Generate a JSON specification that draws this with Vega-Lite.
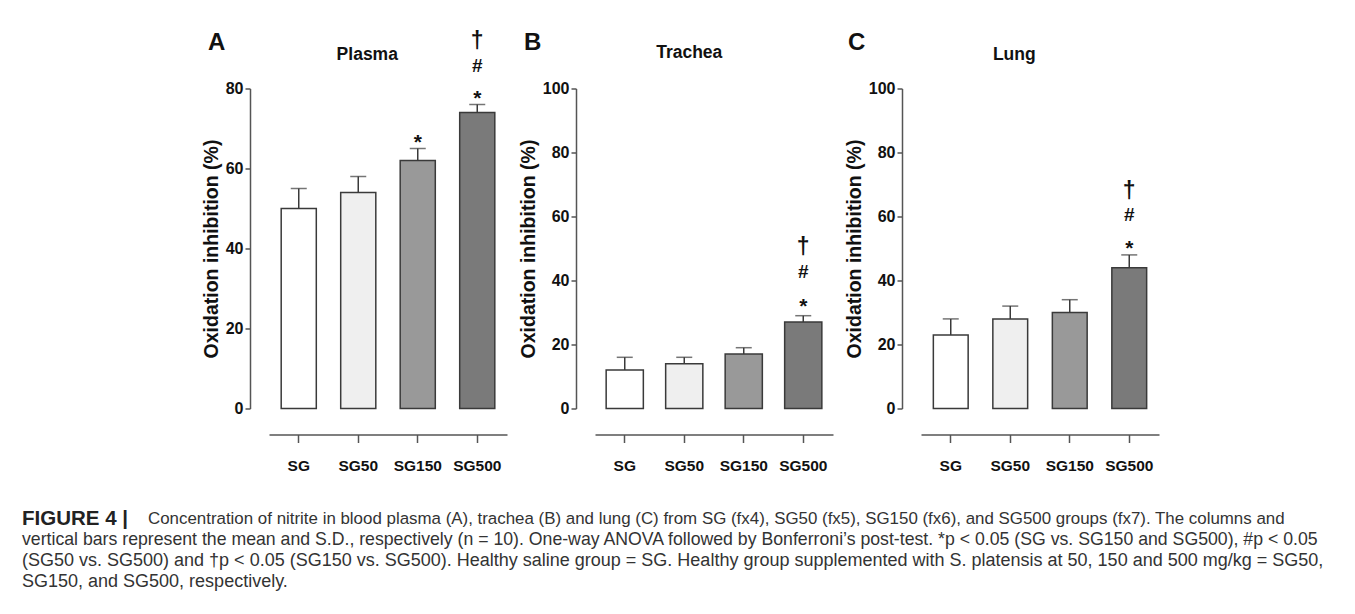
{
  "$schema": "https://vega.github.io/schema/vega-lite/v6.json",
  "background": "white",
  "padding": {"left": 22, "top": 29.5, "right": 8, "bottom": 4},
  "config": {
    "view": {"stroke": null},
    "axis": {"grid": false, "domainColor": "#555555", "domainWidth": 1.5, "tickColor": "#555555", "tickWidth": 1.5,
      "labelFont": "Liberation Sans, Arial, sans-serif", "labelFontWeight": "bold", "labelColor": "#111111",
      "titleFont": "Liberation Sans, Arial, sans-serif", "titleFontWeight": "bold", "titleColor": "#111111"},
    "text": {"color": "#111111"}
  },
  "bounds": "flush",
  "columns": 3,
  "spacing": {"row": 100, "column": 88},
  "concat": [
    {
      "width": 238, "height": 320,
      "data": {"values": [
        {"group": "SG", "mean": 50, "upper": 55, "star": "", "hash": "", "dagger": ""},
        {"group": "SG50", "mean": 54, "upper": 58, "star": "", "hash": "", "dagger": ""},
        {"group": "SG150", "mean": 62, "upper": 65, "star": "*", "hash": "", "dagger": ""},
        {"group": "SG500", "mean": 74, "upper": 76, "star": "*", "hash": "#", "dagger": "†"}
      ]},
      "encoding": {
        "x": {"field": "group", "type": "nominal", "sort": ["SG", "SG50", "SG150", "SG500"],
          "scale": {"paddingInner": 0.41, "paddingOuter": 0.205},
          "axis": {"title": null, "offset": 26, "labelAngle": 0, "tickSize": 8, "labelPadding": 16, "labelFontSize": 15.5}}
      },
      "layer": [
        {"mark": {"type": "bar", "stroke": "#3a3a3a", "strokeWidth": 1.5},
         "encoding": {
           "y": {"field": "mean", "type": "quantitative", "scale": {"domain": [0, 80]},
             "axis": {"title": "Oxidation inhibition (%)", "values": [0, 20, 40, 60, 80], "offset": 19, "tickSize": 5, "labelPadding": 2, "labelFontSize": 16, "titleFontSize": 19.5, "titlePadding": 4}},
           "fill": {"field": "group", "type": "nominal", "legend": null,
             "scale": {"domain": ["SG", "SG50", "SG150", "SG500"], "range": ["#ffffff", "#efefef", "#999999", "#7a7a7a"]}}
         }},
        {"mark": {"type": "rule", "color": "#3a3a3a", "strokeWidth": 1.5},
         "encoding": {"y": {"field": "mean", "type": "quantitative"}, "y2": {"field": "upper"}}},
        {"mark": {"type": "tick", "color": "#3a3a3a", "thickness": 1.5, "size": 16},
         "encoding": {"y": {"field": "upper", "type": "quantitative"}}},
        {"mark": {"type": "text", "font": "Liberation Sans", "fontWeight": "bold", "fontSize": 21, "dy": -6, "baseline": "middle"},
         "encoding": {"y": {"field": "upper", "type": "quantitative"}, "text": {"field": "star"}}},
        {"mark": {"type": "text", "font": "Liberation Sans", "fontWeight": "bold", "fontSize": 19, "dy": -39, "baseline": "middle"},
         "encoding": {"y": {"field": "upper", "type": "quantitative"}, "text": {"field": "hash"}}},
        {"mark": {"type": "text", "font": "Liberation Sans", "fontWeight": "bold", "fontSize": 23, "dy": -64, "baseline": "middle"},
         "encoding": {"y": {"field": "upper", "type": "quantitative"}, "text": {"field": "dagger"}}},
        {"data": {"values": [{"label": "Plasma"}]},
         "mark": {"type": "text", "font": "Liberation Sans", "fontWeight": "bold", "fontSize": 17.5, "dx": 9, "dy": -34, "baseline": "middle"},
         "encoding": {"x": {"datum": "SG50"}, "y": {"datum": 80}, "text": {"field": "label"}}},
        {"data": {"values": [{"label": "A"}]},
         "mark": {"type": "text", "font": "Liberation Sans", "fontWeight": "bold", "fontSize": 24, "dx": -82, "dy": -46, "baseline": "middle"},
         "encoding": {"x": {"datum": "SG"}, "y": {"datum": 80}, "text": {"field": "label"}}}
      ]
    },
    {
      "width": 238, "height": 320,
      "data": {"values": [
        {"group": "SG", "mean": 12, "upper": 16, "star": "", "hash": "", "dagger": ""},
        {"group": "SG50", "mean": 14, "upper": 16, "star": "", "hash": "", "dagger": ""},
        {"group": "SG150", "mean": 17, "upper": 19, "star": "", "hash": "", "dagger": ""},
        {"group": "SG500", "mean": 27, "upper": 29, "star": "*", "hash": "#", "dagger": "†"}
      ]},
      "encoding": {
        "x": {"field": "group", "type": "nominal", "sort": ["SG", "SG50", "SG150", "SG500"],
          "scale": {"paddingInner": 0.375, "paddingOuter": 0.1875},
          "axis": {"title": null, "offset": 26, "labelAngle": 0, "tickSize": 8, "labelPadding": 16, "labelFontSize": 15.5}}
      },
      "layer": [
        {"mark": {"type": "bar", "stroke": "#3a3a3a", "strokeWidth": 1.5},
         "encoding": {
           "y": {"field": "mean", "type": "quantitative", "scale": {"domain": [0, 100]},
             "axis": {"title": "Oxidation inhibition (%)", "values": [0, 20, 40, 60, 80, 100], "offset": 19, "tickSize": 5, "labelPadding": 2, "labelFontSize": 16, "titleFontSize": 19.5, "titlePadding": 4}},
           "fill": {"field": "group", "type": "nominal", "legend": null,
             "scale": {"domain": ["SG", "SG50", "SG150", "SG500"], "range": ["#ffffff", "#efefef", "#999999", "#7a7a7a"]}}
         }},
        {"mark": {"type": "rule", "color": "#3a3a3a", "strokeWidth": 1.5},
         "encoding": {"y": {"field": "mean", "type": "quantitative"}, "y2": {"field": "upper"}}},
        {"mark": {"type": "tick", "color": "#3a3a3a", "thickness": 1.5, "size": 16},
         "encoding": {"y": {"field": "upper", "type": "quantitative"}}},
        {"mark": {"type": "text", "font": "Liberation Sans", "fontWeight": "bold", "fontSize": 21, "dy": -9, "baseline": "middle"},
         "encoding": {"y": {"field": "upper", "type": "quantitative"}, "text": {"field": "star"}}},
        {"mark": {"type": "text", "font": "Liberation Sans", "fontWeight": "bold", "fontSize": 19, "dy": -44, "baseline": "middle"},
         "encoding": {"y": {"field": "upper", "type": "quantitative"}, "text": {"field": "hash"}}},
        {"mark": {"type": "text", "font": "Liberation Sans", "fontWeight": "bold", "fontSize": 23, "dy": -69, "baseline": "middle"},
         "encoding": {"y": {"field": "upper", "type": "quantitative"}, "text": {"field": "dagger"}}},
        {"data": {"values": [{"label": "Trachea"}]},
         "mark": {"type": "text", "font": "Liberation Sans", "fontWeight": "bold", "fontSize": 17.5, "dx": 5, "dy": -36, "baseline": "middle"},
         "encoding": {"x": {"datum": "SG50"}, "y": {"datum": 100}, "text": {"field": "label"}}},
        {"data": {"values": [{"label": "B"}]},
         "mark": {"type": "text", "font": "Liberation Sans", "fontWeight": "bold", "fontSize": 24, "dx": -92, "dy": -46, "baseline": "middle"},
         "encoding": {"x": {"datum": "SG"}, "y": {"datum": 100}, "text": {"field": "label"}}}
      ]
    },
    {
      "width": 238, "height": 320,
      "data": {"values": [
        {"group": "SG", "mean": 23, "upper": 28, "star": "", "hash": "", "dagger": ""},
        {"group": "SG50", "mean": 28, "upper": 32, "star": "", "hash": "", "dagger": ""},
        {"group": "SG150", "mean": 30, "upper": 34, "star": "", "hash": "", "dagger": ""},
        {"group": "SG500", "mean": 44, "upper": 48, "star": "*", "hash": "#", "dagger": "†"}
      ]},
      "encoding": {
        "x": {"field": "group", "type": "nominal", "sort": ["SG", "SG50", "SG150", "SG500"],
          "scale": {"paddingInner": 0.415, "paddingOuter": 0.2075},
          "axis": {"title": null, "offset": 26, "labelAngle": 0, "tickSize": 8, "labelPadding": 16, "labelFontSize": 15.5}}
      },
      "layer": [
        {"mark": {"type": "bar", "stroke": "#3a3a3a", "strokeWidth": 1.5},
         "encoding": {
           "y": {"field": "mean", "type": "quantitative", "scale": {"domain": [0, 100]},
             "axis": {"title": "Oxidation inhibition (%)", "values": [0, 20, 40, 60, 80, 100], "offset": 19, "tickSize": 5, "labelPadding": 2, "labelFontSize": 16, "titleFontSize": 19.5, "titlePadding": 4}},
           "fill": {"field": "group", "type": "nominal", "legend": null,
             "scale": {"domain": ["SG", "SG50", "SG150", "SG500"], "range": ["#ffffff", "#efefef", "#999999", "#7a7a7a"]}}
         }},
        {"mark": {"type": "rule", "color": "#3a3a3a", "strokeWidth": 1.5},
         "encoding": {"y": {"field": "mean", "type": "quantitative"}, "y2": {"field": "upper"}}},
        {"mark": {"type": "tick", "color": "#3a3a3a", "thickness": 1.5, "size": 16},
         "encoding": {"y": {"field": "upper", "type": "quantitative"}}},
        {"mark": {"type": "text", "font": "Liberation Sans", "fontWeight": "bold", "fontSize": 21, "dy": -6, "baseline": "middle"},
         "encoding": {"y": {"field": "upper", "type": "quantitative"}, "text": {"field": "star"}}},
        {"mark": {"type": "text", "font": "Liberation Sans", "fontWeight": "bold", "fontSize": 19, "dy": -40, "baseline": "middle"},
         "encoding": {"y": {"field": "upper", "type": "quantitative"}, "text": {"field": "hash"}}},
        {"mark": {"type": "text", "font": "Liberation Sans", "fontWeight": "bold", "fontSize": 23, "dy": -64, "baseline": "middle"},
         "encoding": {"y": {"field": "upper", "type": "quantitative"}, "text": {"field": "dagger"}}},
        {"data": {"values": [{"label": "Lung"}]},
         "mark": {"type": "text", "font": "Liberation Sans", "fontWeight": "bold", "fontSize": 17.5, "dx": 4, "dy": -34, "baseline": "middle"},
         "encoding": {"x": {"datum": "SG50"}, "y": {"datum": 100}, "text": {"field": "label"}}},
        {"data": {"values": [{"label": "C"}]},
         "mark": {"type": "text", "font": "Liberation Sans", "fontWeight": "bold", "fontSize": 24, "dx": -94, "dy": -46, "baseline": "middle"},
         "encoding": {"x": {"datum": "SG"}, "y": {"datum": 100}, "text": {"field": "label"}}}
      ]
    },
    {
      "width": 238, "height": 84,
      "data": {"values": [
        {"line": 1, "part": "bold", "text": "FIGURE 4  |"},
        {"line": 1, "part": "rest1", "text": "Concentration of nitrite in blood plasma (A), trachea (B) and lung (C) from SG (fx4), SG50 (fx5), SG150 (fx6), and SG500 groups (fx7). The columns and"},
        {"line": 2, "part": "line2", "text": "vertical bars represent the mean and S.D., respectively (n = 10). One-way ANOVA followed by Bonferroni’s post-test. *p < 0.05 (SG vs. SG150 and SG500), #p < 0.05"},
        {"line": 3, "part": "plain", "text": "(SG50 vs. SG500) and †p < 0.05 (SG150 vs. SG500). Healthy saline group = SG. Healthy group supplemented with S. platensis at 50, 150 and 500 mg/kg = SG50,"},
        {"line": 4, "part": "plain", "text": "SG150, and SG500, respectively."}
      ]},
      "encoding": {
        "x": {"datum": 0, "type": "quantitative", "scale": {"domain": [0, 1]}, "axis": null},
        "y": {"field": "line", "type": "ordinal", "axis": null},
        "text": {"field": "text"}
      },
      "layer": [
        {"transform": [{"filter": "datum.part === 'bold'"}],
         "mark": {"type": "text", "align": "left", "baseline": "middle", "font": "Liberation Sans", "fontWeight": "bold", "fontSize": 20.5, "color": "#222222", "dx": -247}},
        {"transform": [{"filter": "datum.part === 'rest1'"}],
         "mark": {"type": "text", "align": "left", "baseline": "middle", "font": "Liberation Sans", "fontSize": 16.9, "color": "#333333", "dx": -121}},
        {"transform": [{"filter": "datum.part === 'line2'"}],
         "mark": {"type": "text", "align": "left", "baseline": "middle", "font": "Liberation Sans", "fontSize": 17.7, "color": "#333333", "dx": -247}},
        {"transform": [{"filter": "datum.part === 'plain'"}],
         "mark": {"type": "text", "align": "left", "baseline": "middle", "font": "Liberation Sans", "fontSize": 18, "color": "#333333", "dx": -247}}
      ]
    }
  ]
}
